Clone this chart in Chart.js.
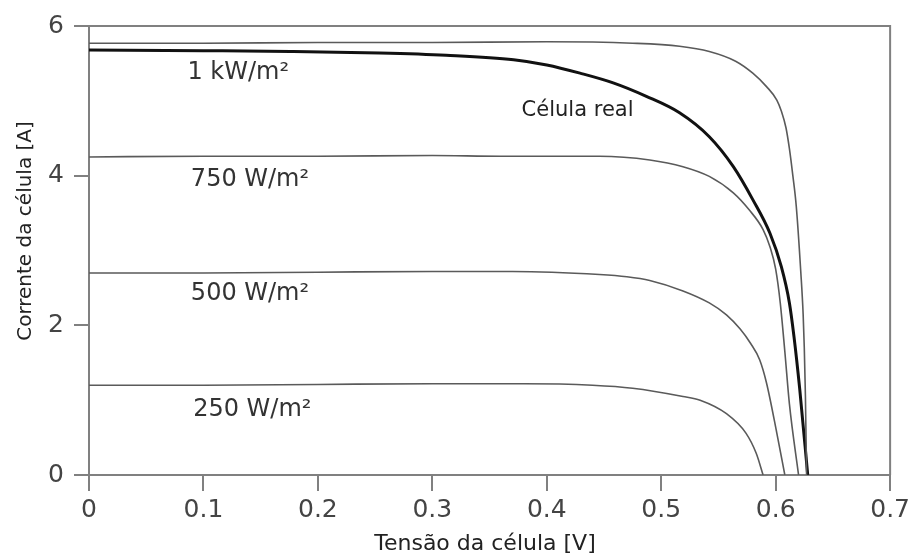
<!DOCTYPE html>
<html lang="pt-BR">
<head>
    <meta charset="UTF-8" />
    <title>Curvas I-V da célula</title>
    <script src="https://cdn.jsdelivr.net/npm/chart.js"></script>
    <style>
        html, body { margin: 0; padding: 0; background: #fff; }
        #wrap { width: 914px; height: 558px; }
    </style>
</head>
<body>
    <div id="wrap"><canvas id="ivChart" width="914" height="558"></canvas></div>
    <script>
        // tensao [V] / corrente [A]
        const vIdeal = [0, 0.10, 0.20, 0.30, 0.40, 0.475, 0.516, 0.542, 0.565, 0.580, 0.592, 0.601, 0.605, 0.609, 0.612, 0.615, 0.618, 0.622, 0.624, 0.625, 0.626, 0.627];
        const iIdeal = [5.77, 5.77, 5.78, 5.78, 5.79, 5.77, 5.73, 5.66, 5.53, 5.37, 5.19, 5.01, 4.86, 4.64, 4.36, 4.00, 3.59, 2.70, 2.15, 1.70, 1.05, 0];

        const vReal = [0, 0.10, 0.176, 0.254, 0.312, 0.371, 0.400, 0.429, 0.458, 0.487, 0.516, 0.542, 0.563, 0.580, 0.595, 0.605, 0.612, 0.616, 0.621, 0.628];
        const iReal = [5.68, 5.67, 5.66, 5.64, 5.61, 5.55, 5.48, 5.37, 5.24, 5.06, 4.84, 4.52, 4.12, 3.68, 3.23, 2.78, 2.30, 1.85, 1.15, 0];

        const v750 = [0, 0.10, 0.20, 0.30, 0.36, 0.446, 0.49, 0.519, 0.542, 0.563, 0.577, 0.589, 0.595, 0.600, 0.604, 0.608, 0.612, 0.620];
        const i750 = [4.25, 4.26, 4.26, 4.27, 4.26, 4.26, 4.21, 4.12, 3.99, 3.77, 3.54, 3.28, 3.05, 2.75, 2.30, 1.65, 0.95, 0];

        const v500 = [0, 0.10, 0.20, 0.30, 0.37, 0.446, 0.47, 0.49, 0.519, 0.542, 0.557, 0.569, 0.578, 0.586, 0.592, 0.601, 0.608];
        const i500 = [2.70, 2.70, 2.71, 2.72, 2.72, 2.68, 2.65, 2.60, 2.46, 2.30, 2.14, 1.95, 1.76, 1.54, 1.23, 0.56, 0];

        const v250 = [0, 0.10, 0.20, 0.30, 0.38, 0.44, 0.475, 0.519, 0.534, 0.557, 0.574, 0.583, 0.589];
        const i250 = [1.20, 1.20, 1.21, 1.22, 1.22, 1.20, 1.16, 1.05, 1.00, 0.82, 0.56, 0.29, 0];

        // rotulos dentro do grafico
        const labelTexts = ['1 kW/m²', '750 W/m²', '500 W/m²', '250 W/m²', 'Célula real'];
        const labelV = [0.086, 0.089, 0.089, 0.091, 0.378];
        const labelI = [5.37, 3.94, 2.42, 0.87, 4.87];

        const xTitle = 'Tensão da célula [V]';
        const yTitle = 'Corrente da célula [A]';

        const xMin = 0, xMax = 0.7, xStep = 0.1;
        const yMin = 0, yMax = 6, yStep = 2;

        const axisColor = '#808080';
        const tickFont = { family: 'DejaVu Sans', size: 25 };

        function pts(v, i) {
            return v.map((x, k) => ({ x: x, y: i[k] }));
        }

        function curve(v, i, color, width) {
            return {
                data: pts(v, i),
                borderColor: color,
                borderWidth: width,
                pointRadius: 0,
                cubicInterpolationMode: 'monotone',
                fill: false
            };
        }

        const framePlugin = {
            id: 'frame',
            afterDatasetsDraw(chart) {
                const { ctx, chartArea: a, scales } = chart;
                ctx.save();
                ctx.strokeStyle = axisColor;
                ctx.lineWidth = 2;
                ctx.beginPath();
                ctx.moveTo(a.left, a.top);
                ctx.lineTo(a.right, a.top);
                ctx.lineTo(a.right, a.bottom);
                ctx.stroke();

                ctx.textAlign = 'left';
                ctx.textBaseline = 'middle';
                labelTexts.forEach((t, k) => {
                    const last = k === labelTexts.length - 1;
                    ctx.font = last ? '21px "DejaVu Sans"' : '24px "DejaVu Sans"';
                    ctx.fillStyle = last ? '#222' : '#333';
                    ctx.fillText(t, scales.x.getPixelForValue(labelV[k]), scales.y.getPixelForValue(labelI[k]));
                });

                // titulos dos eixos
                ctx.fillStyle = '#222';
                ctx.textAlign = 'center';
                ctx.textBaseline = 'alphabetic';
                ctx.font = '22px "DejaVu Sans"';
                ctx.fillText(xTitle, 485, 550);
                ctx.translate(31, 231);
                ctx.rotate(-Math.PI / 2);
                ctx.font = '20px "DejaVu Sans"';
                ctx.fillText(yTitle, 0, 0);
                ctx.restore();
            }
        };

        new Chart(document.getElementById('ivChart').getContext('2d'), {
            type: 'line',
            data: {
                datasets: [
                    curve(vIdeal, iIdeal, '#5a5a5a', 1.6),
                    curve(v750, i750, '#5a5a5a', 1.6),
                    curve(v500, i500, '#5a5a5a', 1.6),
                    curve(v250, i250, '#5a5a5a', 1.6),
                    curve(vReal, iReal, '#111111', 3)
                ]
            },
            options: {
                responsive: false,
                animation: false,
                layout: { padding: { top: 26, right: 23, bottom: 2, left: 0 } },
                plugins: { legend: { display: false }, tooltip: { enabled: false } },
                scales: {
                    x: {
                        type: 'linear',
                        min: xMin, max: xMax,
                        ticks: { stepSize: xStep, font: tickFont, color: '#444', padding: 4, maxRotation: 0 },
                        grid: { drawOnChartArea: false, drawTicks: true, tickLength: 16, color: axisColor, lineWidth: 2 },
                        border: { display: true, color: axisColor, width: 2 },
                        afterFit(s) { s.height = 558 - 475 - 2; }
                    },
                    y: {
                        min: yMin, max: yMax,
                        ticks: { stepSize: yStep, font: tickFont, color: '#444', padding: 10 },
                        grid: { drawOnChartArea: false, drawTicks: true, tickLength: 15, color: axisColor, lineWidth: 2 },
                        border: { display: true, color: axisColor, width: 2 },
                        afterFit(s) { s.width = 89; }
                    }
                }
            },
            plugins: [framePlugin]
        });
    </script>
</body>
</html>
